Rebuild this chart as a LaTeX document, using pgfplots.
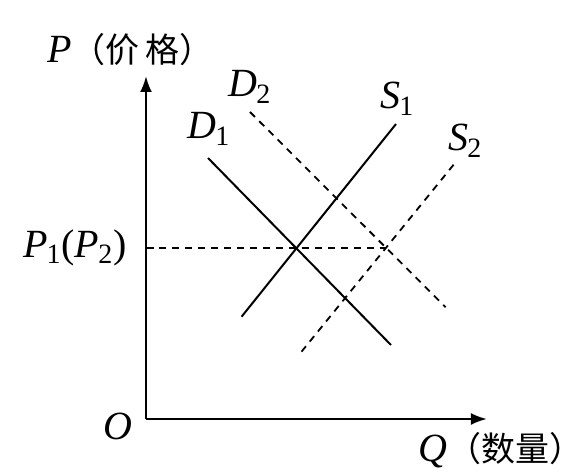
\documentclass[border=0pt]{standalone}
\usepackage{pgfplots}
\pgfplotsset{compat=1.18}
\usepackage{fontspec}
\setmainfont{Liberation Serif}
\newfontfamily\cjk{Noto Sans CJK SC}
\usetikzlibrary{arrows.meta}
\newcommand{\sub}[2]{\textit{#1}\kern-0.5pt\textsubscript{#2}}

\begin{document}
\begin{tikzpicture}
\begin{axis}[
  x=0.5pt, y=0.5pt,
  xmin=0, xmax=341, ymin=0, ymax=343,
  axis lines=left,
  axis line style={line width=1.2pt},
  x axis line style={-{Latex[length=8pt,width=6pt]}},
  y axis line style={-{Latex[length=8pt,width=6pt]}},
  xtick=\empty, ytick={171}, yticklabels={},
  tick align=inside, major tick length=4pt,
  tick style={line width=0.8pt, black},
  enlargelimits=false, clip=false,
  font=\fontsize{20}{24}\selectfont,
]
% demand and supply, before (solid) and after (dashed)
\addplot[black, line width=1pt] coordinates {(62,261) (245,74)};      % D1
\addplot[black, line width=1pt] coordinates {(95.6,102.3) (250,295)}; % S1
\addplot[black, line width=0.9pt, dash pattern=on 3.5pt off 3pt]
  coordinates {(104,307) (299.7,111.7)};                              % D2
\addplot[black, line width=0.9pt, dash pattern=on 3.5pt off 3pt]
  coordinates {(155.5,67.3) (309,256)};                               % S2
\addplot[black, line width=0.9pt, dash pattern=on 3.5pt off 3pt]
  coordinates {(0,171) (240,171)};                                    % price level

\node[anchor=base west, inner sep=0pt] at (axis cs:-99,357)
  {\textit{P}{\cjk\fontsize{17}{20}\selectfont （价\,格）}};
\node[anchor=base west, inner sep=0pt] at (axis cs:82,322) {\sub{D}{2}};
\node[anchor=base west, inner sep=0pt] at (axis cs:41,280) {\sub{D}{1}};
\node[anchor=base west, inner sep=0pt] at (axis cs:234,310) {\sub{S}{1}};
\node[anchor=base west, inner sep=0pt] at (axis cs:302,268) {\sub{S}{2}};
\node[anchor=east, inner sep=0pt] at (axis cs:-19,171) {\sub{P}{1}(\sub{P}{2})};
\node[anchor=east, inner sep=0pt] at (axis cs:-13,-7) {\textit{O}};
\node[anchor=base west, inner sep=0pt] at (axis cs:272,-43)
  {\textit{Q}{\cjk\fontsize{17}{20}\selectfont （数量）}};

\coordinate (bl) at (axis cs:-146,-53);
\coordinate (tr) at (axis cs:440,419);
\end{axis}
\pgfresetboundingbox
\useasboundingbox (bl) rectangle (tr);
\end{tikzpicture}
\end{document}
